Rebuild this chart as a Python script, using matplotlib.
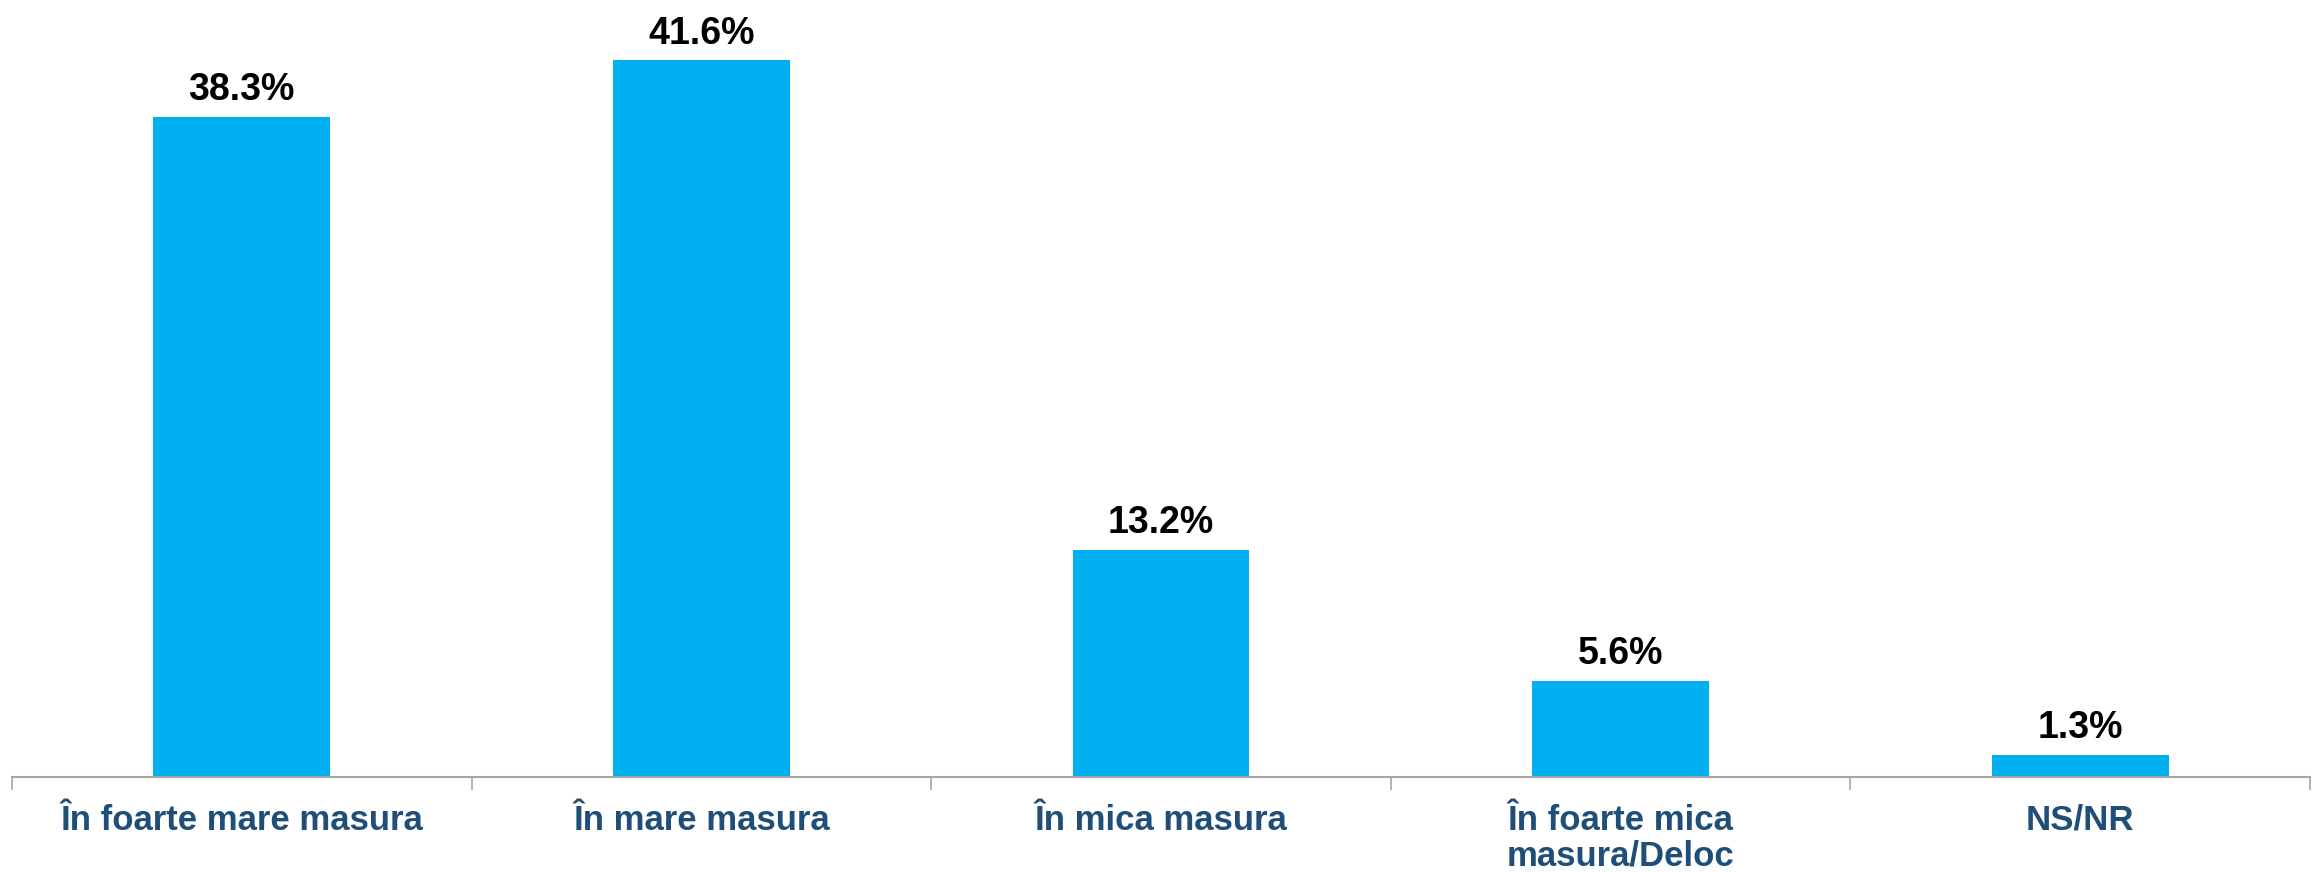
import matplotlib
matplotlib.use("Agg")
import matplotlib.pyplot as plt
import numpy as np

categories = [
    "În foarte mare masura",
    "În mare masura",
    "În mica masura",
    "În foarte mica\nmasura/Deloc",
    "NS/NR",
]
values = [38.3, 41.6, 13.2, 5.6, 1.3]

bar_color = "#00B0F0"
label_color = "#1F4E79"

plt.rcParams["font.family"] = ["Liberation Sans", "DejaVu Sans"]

fig = plt.figure(figsize=(23.18, 8.72), dpi=100)
ax = fig.add_axes([12 / 2318, 95 / 872, 2298 / 2318, 777 / 872])

x = np.arange(len(categories))
bars = ax.bar(x, values, width=0.385, color=bar_color, zorder=2)

for rect, v in zip(bars, values):
    ax.annotate(f"{v:.1f}%", (rect.get_x() + rect.get_width() / 2, v),
                xytext=(0, 12), textcoords="offset points",
                ha="center", va="baseline", fontsize=27, fontweight="bold",
                color="black")

ax.set_xlim(-0.5, len(categories) - 0.5)
ax.set_ylim(0, 45.1)

for side in ["top", "right", "left"]:
    ax.spines[side].set_visible(False)
ax.spines["bottom"].set_color("#A6A6A6")
ax.spines["bottom"].set_linewidth(1.5)
ax.set_yticks([])

# tick marks at slot boundaries, category names placed line by line on baseline
ax.set_xticks(np.arange(len(categories) + 1) - 0.5)
ax.set_xticklabels([])
ax.tick_params(axis="x", length=9, width=1.2, color="#A6A6A6")

for i, name in enumerate(categories):
    for k, line in enumerate(name.split("\n")):
        ax.annotate(line, (i, 0), xycoords=("data", "axes fraction"),
                    xytext=(0, -38 - 26 * k), textcoords="offset points",
                    ha="center", va="baseline", fontsize=25, fontweight="bold",
                    color=label_color, annotation_clip=False)

fig.savefig("out.png", dpi=100)
